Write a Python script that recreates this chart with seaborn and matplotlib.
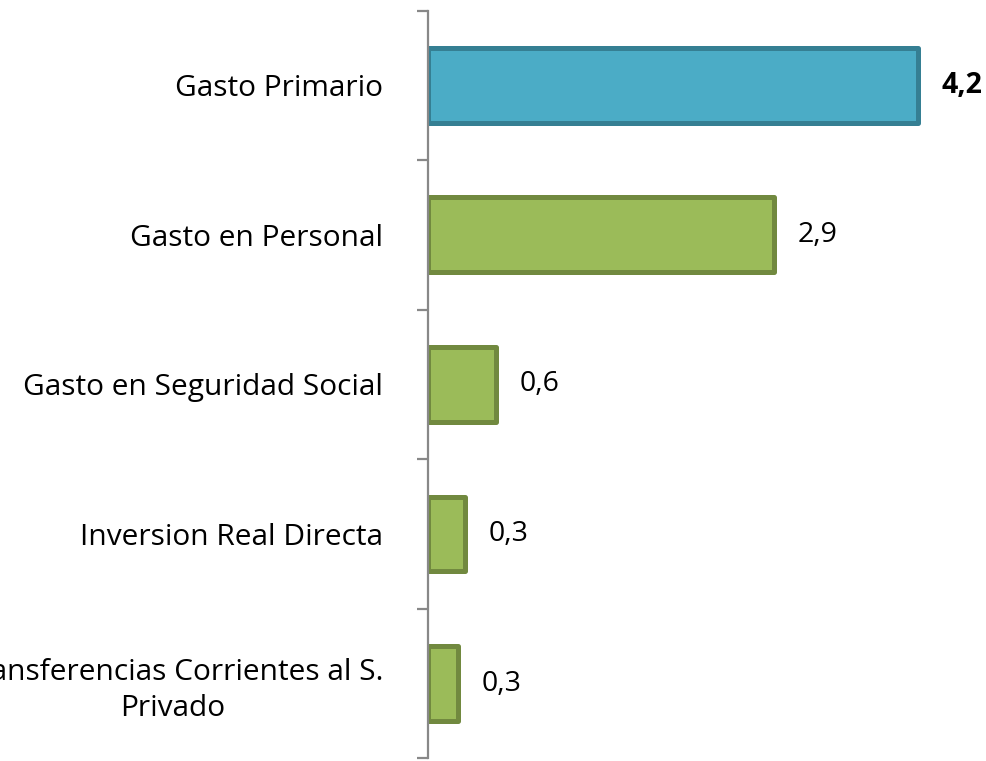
import seaborn as sns
import matplotlib.pyplot as plt
import pandas as pd
import numpy as np

# Data
categories = ['Gasto Primario', 'Gasto en Personal', 'Gasto en Seguridad Social',
              'Inversion Real Directa', 'Transferencias Corrientes al S.\nPrivado']
values = [4.16, 2.94, 0.58, 0.32, 0.26]
face_colors = ['#4BACC6', '#9BBB59', '#9BBB59', '#9BBB59', '#9BBB59']
edge_colors = ['#357F93', '#71893F', '#71893F', '#71893F', '#71893F']

df = pd.DataFrame({'Categoria': categories, 'Valor': values})

sns.set_style("white")
plt.rcParams['font.family'] = ['Open Sans', 'DejaVu Sans']
plt.rcParams['text.color'] = 'black'
plt.rcParams['ytick.labelcolor'] = 'black'

fig = plt.figure(figsize=(9.86, 7.61), dpi=100)
ax = fig.add_axes([0.4338, 0.0033, 0.5378, 0.9829])

sns.barplot(data=df, x='Valor', y='Categoria', hue='Categoria', palette=face_colors,
            legend=False, orient='h', width=0.5, saturation=1, ax=ax)

for patch, ec in zip(ax.patches, edge_colors):
    patch.set_edgecolor(ec)
    patch.set_linewidth(3.6)
    patch.set_joinstyle('round')

ax.set_xlim(0, 4.5)
ax.set_ylim(len(categories) - 0.5, -0.5)

# value labels
for i, (cont, v) in enumerate(zip(ax.containers, values)):
    txt = f"{v:.1f}".replace('.', ',')
    ax.bar_label(cont, labels=[txt], padding=17, fontsize=20.5, color='black',
                 fontweight='bold' if i == 0 else 'normal')

# axes styling
for side in ['top', 'right', 'bottom']:
    ax.spines[side].set_visible(False)
ax.spines['left'].set_color('#888888')
ax.spines['left'].set_linewidth(1.6)
ax.spines['left'].set_zorder(5)

ax.set_xticks([])
ax.set_xlabel('')
ax.set_ylabel('')
ax.set_yticks(np.arange(len(categories)))
ax.set_yticklabels(categories, fontsize=21.5, multialignment='center', linespacing=1.3)
ax.set_yticks(np.arange(len(categories) + 1) - 0.5, minor=True)
ax.tick_params(axis='y', which='major', length=0, pad=32)
ax.tick_params(axis='y', which='minor', length=8, width=1.6, color='#888888', left=True)

plt.savefig('out.png', dpi=100)
